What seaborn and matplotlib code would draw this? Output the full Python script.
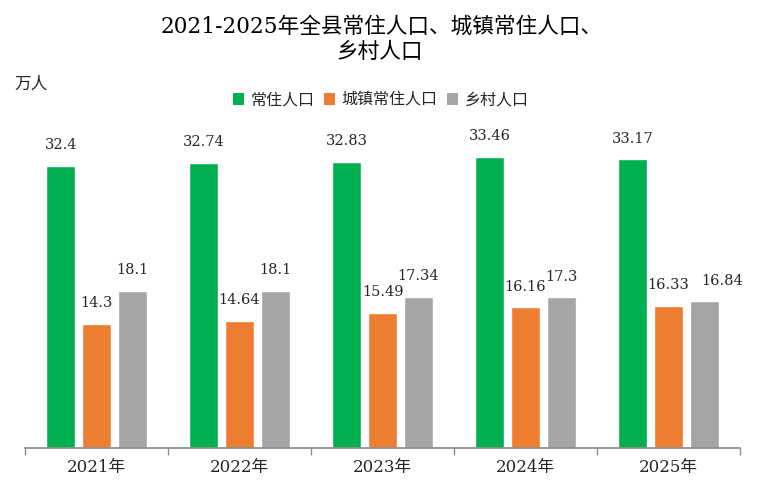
import matplotlib
matplotlib.use("Agg")
import matplotlib.pyplot as plt
import seaborn as sns
import pandas as pd
import numpy as np
from matplotlib.patches import Patch

years = ["2021年", "2022年", "2023年", "2024年", "2025年"]
series = ["常住人口", "城镇常住人口", "乡村人口"]
total = [32.4, 32.74, 32.83, 33.46, 33.17]
urban = [14.3, 14.64, 15.49, 16.16, 16.33]
rural = [18.1, 18.1, 17.34, 17.3, 16.84]
colors = ["#00B050", "#ED7D31", "#A5A5A5"]

sns.set_theme(style="white")
FAM = ["DejaVu Serif", "Noto Sans CJK SC", "DejaVu Sans"]
plt.rcParams["font.family"] = FAM

df = pd.DataFrame({
    "year": years * 3,
    "series": [series[0]] * 5 + [series[1]] * 5 + [series[2]] * 5,
    "value": total + urban + rural,
})

fig = plt.figure(figsize=(7.58, 4.93), dpi=100)
ax = fig.add_axes([25 / 758, 45 / 493, 715 / 758, 348 / 493])
sns.barplot(data=df, x="year", y="value", hue="series", palette=colors,
            width=0.75, gap=0.2, ax=ax, legend=False, saturation=1)

all_labels = []
for cont in ax.containers:
    labels = [("%g" % v) for v in cont.datavalues]
    anns = ax.bar_label(cont, labels=labels, padding=10, fontsize=10.5, color="#262626")
    all_labels.append(anns)

# nudge the last rural label to the right, as in the reference, to avoid overlap
all_labels[2][4].xyann = (13, 10)

ax.set_ylim(0, 40)
ax.set_xlim(-0.5, 4.5)
ax.set_yticks([])
ax.set_xlabel("")
ax.set_ylabel("")
for s in ["top", "right", "left"]:
    ax.spines[s].set_visible(False)
ax.spines["bottom"].set_color("#8c8c8c")
ax.set_xticks(np.arange(5))
ax.set_xticklabels(years, fontsize=12, color="#262626")
ax.set_xticks(np.arange(-0.5, 5, 1), minor=True)
ax.tick_params(axis="x", which="major", length=0, pad=8)
ax.tick_params(axis="x", which="minor", length=5, color="#8c8c8c", bottom=True)

fig.text(0.503, 1 - 27 / 493, "2021-2025年全县常住人口、城镇常住人口、",
         ha="center", va="center", fontsize=15.6, color="black")
fig.text(0.501, 1 - 52 / 493, "乡村人口",
         ha="center", va="center", fontsize=15.6, color="black")
fig.text(14 / 758, 1 - 84 / 493, "万人", ha="left", va="center",
         fontsize=12, color="#262626")

handles = [Patch(facecolor=c, edgecolor="none") for c in colors]
fig.legend(handles, series, loc="center", bbox_to_anchor=(0.502, 1 - 100 / 493),
           ncol=3, frameon=False, fontsize=11.5, handlelength=0.7, handleheight=0.7,
           handletextpad=0.4, columnspacing=0.6, labelcolor="#262626")

fig.savefig("out.png", dpi=100)
